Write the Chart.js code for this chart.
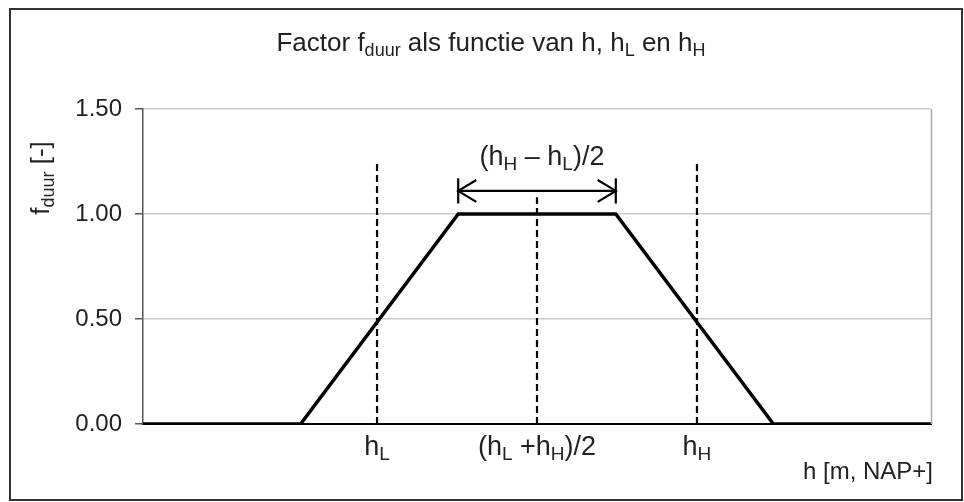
<!DOCTYPE html>
<html>
<head>
<meta charset="utf-8">
<script src="https://cdn.jsdelivr.net/npm/chart.js@4/dist/chart.umd.min.js"></script>
<style>
  html,body{margin:0;padding:0;background:#fff;}
  #wrap{width:964px;height:502px;}
</style>
</head>
<body>
<div id="wrap"><canvas id="chart" width="964" height="502"></canvas></div>
<script>
// --------- data ---------
const hValues=[0,20,40,60,80,100];      // h (relatief, as loopt 0..100)
const fDuur=[0,0,1,1,0,0];              // factor f_duur
const yTicks=[0,0.5,1.0,1.5];
const hL=29.7, hMid=50, hH=70.3;        // posities gestreepte lijnen
const dashTop=[1.25,1.08,1.25];         // bovenkant gestreepte lijnen (hL, mid, hH)
const arrowFrom=40, arrowTo=60, arrowY=1.11;
const arrowBarLo=1.05, arrowBarHi=1.17;
const headDx=2.3, headDy=0.052;

const FONT='"Liberation Sans", Arial, Helvetica, sans-serif';
const TXT='#222';

// --------- datasets ---------
const mainLine=hValues.map((h,i)=>({x:h,y:fDuur[i]}));
const dashSets=[hL,hMid,hH].map((h,i)=>({
  data:[{x:h,y:0},{x:h,y:dashTop[i]}],
  borderColor:'#000',borderWidth:2.2,borderDash:[7,4],pointRadius:0
}));
function seg(pts){return {data:pts.map(p=>({x:p[0],y:p[1]})),borderColor:'#000',borderWidth:2.2,pointRadius:0};}
const arrowSets=[
  seg([[arrowFrom,arrowY],[arrowTo,arrowY]]),
  seg([[arrowFrom,arrowBarLo],[arrowFrom,arrowBarHi]]),
  seg([[arrowTo,arrowBarLo],[arrowTo,arrowBarHi]]),
  seg([[arrowFrom+headDx,arrowY+headDy],[arrowFrom,arrowY],[arrowFrom+headDx,arrowY-headDy]]),
  seg([[arrowTo-headDx,arrowY+headDy],[arrowTo,arrowY],[arrowTo-headDx,arrowY-headDy]])
];

// --------- tekst met subscript ---------
function partsWidth(ctx,parts,size){
  let w=0;
  parts.forEach(p=>{ctx.font=(p[1]?Math.round(size*0.7):size)+'px '+FONT;w+=ctx.measureText(p[0]).width;});
  return w;
}
function drawRich(ctx,parts,x,y,size,align){
  const w=partsWidth(ctx,parts,size);
  let cx=align==='center'?x-w/2:(align==='right'?x-w:x);
  ctx.textAlign='left';ctx.textBaseline='alphabetic';ctx.fillStyle=TXT;
  parts.forEach(p=>{
    const s=p[1]?Math.round(size*0.7):size;
    ctx.font=s+'px '+FONT;
    ctx.fillText(p[0],cx,y+(p[1]?size*0.2:0));
    cx+=ctx.measureText(p[0]).width;
  });
}

const labelsPlugin={
  id:'labels',
  afterDraw(chart){
    const ctx=chart.ctx, xs=chart.scales.x, ys=chart.scales.y, a=chart.chartArea;
    ctx.save();
    // rechterrand plotgebied
    ctx.strokeStyle='#aaa';ctx.lineWidth=1.5;
    ctx.beginPath();ctx.moveTo(a.right+0.5,a.top);ctx.lineTo(a.right+0.5,a.bottom);ctx.stroke();
    // kader
    ctx.strokeStyle='#333';ctx.lineWidth=2;
    ctx.strokeRect(10,9,952,491);
    // titel
    drawRich(ctx,[['Factor '],['f'],['duur',1],[' als functie van h, h'],['L',1],[' en h'],['H',1]],491,51,26,'center');
    // labels op x-as
    const by=455;
    drawRich(ctx,[['h'],['L',1]],xs.getPixelForValue(hL),by,27,'center');
    drawRich(ctx,[['(h'],['L',1],[' +h'],['H',1],[')/2']],xs.getPixelForValue(hMid),by,27,'center');
    drawRich(ctx,[['h'],['H',1]],xs.getPixelForValue(hH),by,27,'center');
    // label pijl
    drawRich(ctx,[['(h'],['H',1],[' \u2013 h'],['L',1],[')/2']],xs.getPixelForValue((arrowFrom+arrowTo)/2)+5,ys.getPixelForValue(arrowY)-26,27,'center');
    // as-titels
    drawRich(ctx,[['h [m, NAP+]']],933,479,24,'right');
    ctx.translate(49,178);ctx.rotate(-Math.PI/2);
    drawRich(ctx,[['f'],['duur',1],[' [-]']],0,0,26,'center');
    ctx.restore();
  }
};

// --------- grafiek ---------
new Chart(document.getElementById('chart').getContext('2d'),{
  type:'line',
  data:{datasets:[
    {data:mainLine,borderColor:'#000',borderWidth:3.5,pointRadius:0,tension:0},
    ...dashSets,
    ...arrowSets
  ]},
  options:{
    responsive:false,animation:false,
    layout:{padding:{top:109,right:33,left:0,bottom:0}},
    plugins:{legend:{display:false},tooltip:{enabled:false},title:{display:false}},
    scales:{
      x:{type:'linear',min:0,max:100,
        grid:{display:false,drawTicks:false},ticks:{display:false},
        border:{color:'#000',width:2},
        afterFit:s=>{s.height=78;}},
      y:{type:'linear',min:0,max:1.5,
        afterBuildTicks:s=>{s.ticks=yTicks.map(v=>({value:v}));},
        ticks:{callback:v=>v.toFixed(2),padding:13,color:TXT,font:{family:FONT,size:24}},
        grid:{color:'#cccccc',tickColor:'#555',tickLength:8,lineWidth:1.5},
        border:{color:'#555',width:1.5},
        afterFit:s=>{s.width=143;}}
    }
  },
  plugins:[labelsPlugin]
});
</script>
</body>
</html>
